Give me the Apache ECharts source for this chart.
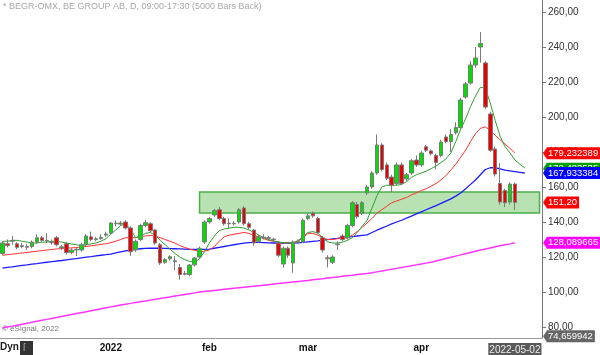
<!DOCTYPE html>
<html lang="en">
<head>
<meta charset="UTF-8">
<title>BEGR-OMX</title>
<script src="https://cdn.jsdelivr.net/npm/echarts@6/dist/echarts.min.js"></script>
<style>
  html, body { margin: 0; padding: 0; background: #fff; }
  #main { width: 600px; height: 355px; }
</style>
</head>
<body>
<div id="main"></div>
<script type="text/javascript">
// daily bars, 2021-11-30 .. 2022-05-02
var opens = [122,127.5,129,127.5,126,126,126,128.5,131,129.2, 128.6,131,125.2,127.5,122.5,124,124,127,131.5,130,
  130.5,132.5,133.7,139,138.8,140,136.6,124,130,138, 139,135.4,127,117,119,117.8,114,110.6,110,115.5,
  120,128.6,140,144,147,142,139.3,139,140,148, 139,135.4,129,131,131,130.2,128,116,125,116.6,
  128.4,128.6,142,145,142,131,119.5,117,127,132, 131,138,150,145,156.6,160,168,184,172.6,165.7,
  162,172.6,164.6,168,175.4,172.6,183,180.6,178,178, 188.6,186,191,194,211.4,219.4,229.7,240,230.9,201.7,
  181.7,162,158,151.4,161.7];
var closes = [128,126.5,129.5,125.5,126.5,125.6,128.5,131,129.5,129.5, 128.2,127,125.8,122.5,124,124.4,127,132,130,130.4,
  131.2,133.2,139.4,139.3,139.4,136.6,123,129,138,139.6, 135,128,116.6,118.5,120.2,117.4,110,110.2,115.4,119.4,
  125,140,142,146.5,142,139,139,139.3,147,139, 137,128,131.5,131.3,130.7,130,121,125,121,128.6,
  128.8,141,143.5,143.5,134,124,119,120,127.4,130, 138,151,143,151,160,168,184,170,165,161,
  172.6,162,167,175,172.6,179.4,181,179,174,185.7, 186,190,194,209.7,218.9,229.7,233.7,242,205.7,181,
  167.4,151.4,151,161.7,151.2];
var lows = [121,125.5,127,124.5,125,124,125,127.5,128.5,128, 127,126,124,121.5,121.5,120.5,123,126,129,129,
  129.8,131.5,133,137.5,138,135.8,120.5,123,129,137, 134,127,115.5,116,118,112.5,107,109.5,109,114.5,
  119,127.5,139,143,141,138,136.5,138,139,138, 136,126.5,128,130,129.5,129,120,114,119.5,111,
  127.5,128,141,142.5,133,122.5,114,116,124,129, 130,137,142,144,155.5,159,167,169,164,157,
  161,161,163.5,167,171.5,171.5,180,178,170,177, 185,180,190,193,210.5,218.5,228,231,204.5,180,
  166,150,148.5,150,146.8];
var highs = [129,130,132,128.5,128,127.5,129.5,133,132,133.5, 130,132,127,128.5,125,125.5,128,133,134.5,131.5,
  133,134.5,140,141,140.5,141,137.5,130,139,141.2, 140,136,128,119.5,121,120.5,116,112,116,120,
  126,141,143,147.5,148.5,143,142,140.5,148,149, 140,136,132.5,133,132,131,129,126,126,129.5,
  130,142,145,146,143,132,121,121,129,133, 139,152,151.5,152,161,169,190,185,174,167,
  174,174,168,176,178,180.5,184,181.5,179,187, 190,193,197,211,220,232,240,248.6,232,203,
  183,173.7,159,162.5,162.5];

// moving averages as drawn (green / red / blue / magenta)
var maGreen = [129,129,129.5,129.5,129,128.5,128,128,128.5,128.5, 129,129,128.5,128,127.5,127,126.5,127,127.5,128,
  129,130.5,133,135.5,138,139,136,131,132,133.5, 134,132.5,129.5,127,124.5,122,120,118.5,117.5,117,
  119,123,128,132,135,136,136.5,137,137,136.5, 135.5,134,132.6,131,130,129.2,128.6,128.2,128,128,
  129.5,131.5,134,134.5,133.7,131,128.6,128,128,128.5, 129.5,131,134,137.5,141,148,155,160,161,161,
  161,161.5,163,165.5,167,168,169,170.5,172,174, 176,179.5,186,193,199,206,212,217,216.6,208,
  198,189,183,179.5,175.5,173,171];
var maRed = [121,121.3,121.6,122,122.3,122.6,123,123.3,123.6,124, 124.3,124.6,124.8,125,125.2,125.4,125.7,126,126.4,126.8,
  127.2,127.6,128.2,129,130,131,131.2,131,131.5,132, 132.3,132,131,130,129,128,126.5,125.5,124.5,123.8,
  123.2,123.3,124,126,129,131.5,132.5,133,133.5,134, 133.5,132.5,131.5,130.5,129.5,129,128.5,128,128,128,
  129,131,133.5,133.5,132.5,131,130,130,130.5,130.5, 131,132.5,134.5,137,139.4,142,145,147,149,151,
  152,153,154,155.5,156.6,158,159,160.5,162,164, 166.5,169.7,173,177,181,186,190.5,193.5,194.3,192.5,
  189.5,187,184.5,182,179.4];
var maBlue = [113.7,114.1,114.4,114.8,115.2,115.5,115.9,116.2,116.6,117, 117.3,117.7,118,118.4,118.8,119.1,119.5,119.9,120.2,120.6,
  121,121.3,121.7,122.3,122.9,123.5,124,124.4,124.7,124.9, 125,125,125,124.9,124.8,124.7,124.6,124.5,124.4,124.4,
  124.3,124.3,124.5,125,125.5,126,126.5,127,127.5,127.9, 128.2,128.3,128.3,128.2,128.1,128,128,128,128,128,
  128.1,128.3,128.6,128.9,129.2,129.6,129.9,130.3,130.6,131, 131.3,131.6,132,132.3,132.6,134,135.3,136.5,137.7,138.9,
  140,141,142.2,143.4,144.6,145.8,147,148.2,149.4,150.6, 151.9,153.2,154.8,156.6,159,161.5,164,167,170,171,
  171,170.4,169.7,169.2,168.8,168.4,168];
var maMagenta = [79.4,79.95,80.5,81.05,81.6,82.15,82.7,83.25,83.8,84.35, 84.9,85.45,86,86.55,87.1,87.65,88.2,88.75,89.3,89.85,
  90.4,90.95,91.5,92.05,92.6,93.05,93.5,94,94.45,94.9, 95.35,95.8,96.25,96.7,97.2,97.65,98.1,98.6,99.05,99.5,
  100,100.3,100.6,100.9,101.2,101.5,101.8,102.1,102.4,102.7, 103,103.3,103.6,103.9,104.2,104.5,104.8,105.1,105.4,105.7,
  106,106.3,106.6,107,107.3,107.6,108,108.3,108.6,109, 109.3,109.6,110,110.3,110.6,111,111.5,112,112.5,113,
  113.5,114,114.5,115,115.5,116,116.5,117,117.7,118.4, 119.1,119.8,120.5,121.2,121.9,122.6,123.3,124,124.6,125.2,
  125.8,126.4,127,127.5,128.1];

// support zone
var zoneTop = 157.2, zoneBottom = 145.1, zoneStart = 40;

// axis ticks and labels
var yTicks = [80, 100, 120, 140, 160, 180, 200, 220, 240, 260];
var xTickIndex = [22, 42, 62, 85, 104];
var xTickText = ['2022', 'feb', 'mar', 'apr', '2022-05-02'];
var tagValues = [179.232389, 170.483535, 167.933384, 151.20, 128.089665, 74.659942];
var tagText = ['179,232389', '170,483535', '167,933384', '151,20', '128,089665', '74,659942'];
var tagColors = ['#ff0000', '#00a000', '#0000ff', '#ff0000', '#ff00ff', '#666666'];

var holidays = ['2021-12-24', '2021-12-31', '2022-01-06', '2022-04-15', '2022-04-18'];
var dates = [];
var d = new Date(Date.UTC(2021, 10, 30));
while (dates.length < 110) {
  var s = d.toISOString().slice(0, 10);
  var wd = d.getUTCDay();
  if (wd !== 0 && wd !== 6 && holidays.indexOf(s) < 0) dates.push(s);
  d.setUTCDate(d.getUTCDate() + 1);
}

var candles = opens.map(function (o, i) { return [o, closes[i], lows[i], highs[i]]; });

var FONT = '"Liberation Sans", Arial, sans-serif';

// small left-pointing tip for each value tag
function tip(color) {
  var c = document.createElement('canvas');
  c.width = 4; c.height = 12;
  var g = c.getContext('2d');
  g.fillStyle = color;
  g.beginPath(); g.moveTo(4, 0); g.lineTo(0, 6); g.lineTo(4, 12); g.closePath(); g.fill();
  return c;
}
var tagRich = {};
tagColors.forEach(function (c, k) {
  tagRich['a' + k] = { width: 4, height: 12, fontSize: 9, backgroundColor: { image: tip(c) } };
  tagRich['t' + k] = { color: '#fff', backgroundColor: c, fontSize: 9.5, fontFamily: FONT, height: 12, lineHeight: 12, padding: [0, 2, 0, 1] };
});

var chart = echarts.init(document.getElementById('main'));
var yMin = 73.71, yMax = 266.86;

var option = {
  animation: false,
  backgroundColor: '#fff',
  grid: { left: 0, right: 58, top: 0, bottom: 17, outerBoundsMode: 'none', containLabel: false },
  graphic: [
    { type: 'text', left: 3, top: 2, style: { text: '* BEGR-OMX, BE GROUP AB, D, 09:00-17:30 (5000 Bars Back)', fill: '#a8a8a8', font: '9px ' + FONT } },
    { type: 'text', left: 2, top: 325, style: { text: '\u00a9 eSignal, 2022', fill: '#777', font: '8px ' + FONT } },
    { type: 'text', left: 0, top: 342, style: { text: 'Dyn', fill: '#222', font: 'bold 10px ' + FONT } },
    { type: 'rect', shape: { x: 20, y: 341, width: 13, height: 14 }, style: { fill: '#333' } },
    { type: 'text', left: 23, top: 343, style: { text: 'ſ', fill: '#aaa', font: '10px ' + FONT } }
  ],
  xAxis: {
    type: 'category',
    data: dates,
    boundaryGap: true,
    axisLine: { lineStyle: { color: '#999' } },
    axisTick: {
      alignWithLabel: true, length: 3, lineStyle: { color: '#999' },
      interval: function (i) { return xTickIndex.indexOf(i) >= 0; }
    },
    axisLabel: {
      interval: function (i) { return xTickIndex.indexOf(i) >= 0; },
      margin: 5,
      fontFamily: FONT,
      fontSize: 10,
      fontWeight: 'bold',
      color: '#111',
      formatter: function (v, i) {
        var k = xTickIndex.indexOf(i);
        if (k < 0) return '';
        if (k === xTickText.length - 1) return '{d|' + xTickText[k] + '}';
        return xTickText[k];
      },
      rich: {
        d: { color: '#eee', backgroundColor: '#5a5a5a', fontWeight: 'normal', fontSize: 10, fontFamily: FONT, padding: [2, 1, 1, 1] }
      }
    },
    splitLine: { show: false }
  },
  yAxis: [
    {
      type: 'value', position: 'right', min: yMin, max: yMax, scale: true,
      axisLine: { show: true, lineStyle: { color: '#777' } },
      axisTick: { show: true, length: 4, customValues: yTicks, lineStyle: { color: '#777' } },
      axisLabel: {
        customValues: yTicks, margin: 6, fontFamily: FONT, fontSize: 10, color: '#333',
        formatter: function (v) { return v.toFixed(2).replace('.', ','); }
      },
      splitLine: { show: false }
    },
    {
      type: 'value', position: 'right', min: yMin, max: yMax, scale: true,
      axisLine: { show: false }, axisTick: { show: false }, splitLine: { show: false },
      axisLabel: {
        customValues: tagValues, margin: 1,
        formatter: function (v) {
          var k = 0, best = 1e9;
          tagValues.forEach(function (t, j) { if (Math.abs(t - v) < best) { best = Math.abs(t - v); k = j; } });
          return '{a' + k + '| }{t' + k + '|' + tagText[k] + '}';
        },
        rich: tagRich
      }
    }
  ],
  series: [
    {
      name: 'ma200', type: 'line', data: maMagenta, symbol: 'none', silent: true,
      lineStyle: { color: '#ff33ff', width: 1.5 }
    },
    {
      name: 'ma50', type: 'line', data: maBlue, symbol: 'none', silent: true,
      lineStyle: { color: '#1c1cff', width: 1.3 }
    },
    {
      name: 'ma20', type: 'line', data: maRed, symbol: 'none', silent: true,
      lineStyle: { color: '#ff3030', width: 1 }
    },
    {
      name: 'ma10', type: 'line', data: maGreen, symbol: 'none', silent: true,
      lineStyle: { color: '#2fa02f', width: 1 }
    },
    {
      name: 'BEGR', type: 'candlestick', data: candles, barWidth: 4, z: 3,
      itemStyle: { color: '#00e000', color0: '#ee0000', borderColor: '#7a7a7a', borderColor0: '#7a7a7a', borderWidth: 1 },
      markArea: {
        silent: true,
        itemStyle: { color: '#b8e2b2', borderColor: '#4cae4c', borderWidth: 1.5 },
        data: [[{ xAxis: zoneStart, yAxis: zoneTop }, { xAxis: dates.length - 1, yAxis: zoneBottom }]]
      }
    }
  ]
};

chart.setOption(option);
</script>
</body>
</html>
